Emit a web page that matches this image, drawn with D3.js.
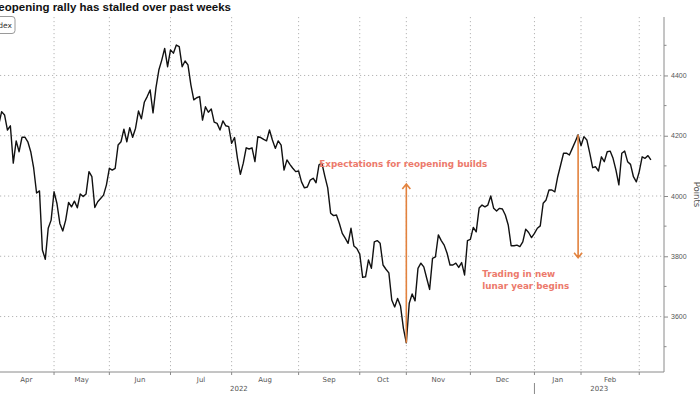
<!DOCTYPE html>
<html>
<head>
<meta charset="utf-8">
<script src="https://cdn.jsdelivr.net/npm/d3@7"></script>
<style>
  body { margin: 0; background: #fff; overflow: hidden; }
  svg { display: block; font-family: "DejaVu Sans", Verdana, sans-serif; }
  .grid line { stroke: #b5b5b5; stroke-width: 1; stroke-dasharray: 1.2,2.8; }
  .axis path, .axis line { stroke: #8a8a8a; }
  .axis text { fill: #555; font-size: 7px; }
  .line { fill: none; stroke: #111; stroke-width: 1.4; stroke-linejoin: round; }
  .note { fill: #ec7a6c; font-weight: bold; font-size: 8.8px; }
  .arrow { fill: none; stroke: #e2823e; stroke-width: 1.6; }
</style>
</head>
<body>
<svg id="chart" width="700" height="394"></svg>
<script>
// CSI 300 daily closes, one per trading session, session 0 = 1 Apr 2022
const closes = [
  4236, 4280, 4269, 4219, 4233, 4109, 4183, 4147, 4195, 4195,
  4180, 4147, 4093, 4010, 4017, 3821, 3790, 3893, 3920, 4014,
  3975, 3909, 3884, 3920, 3979, 3964, 3983, 3961, 4007, 3998,
  4007, 4081, 4064, 3962, 3981, 3992, 4003, 4037, 4092, 4086,
  4092, 4169, 4180, 4222, 4180, 4227, 4195, 4225, 4282, 4256,
  4311, 4330, 4352, 4276, 4359, 4418, 4451, 4490, 4429, 4485,
  4474, 4501, 4496, 4429, 4448, 4435, 4369, 4319, 4326, 4330,
  4252, 4296, 4278, 4289, 4245, 4241, 4219, 4249, 4233, 4230,
  4175, 4194, 4125, 4072, 4109, 4160, 4156, 4160, 4114, 4197,
  4194, 4188, 4183, 4219, 4186, 4158, 4183, 4169, 4086, 4120,
  4105, 4092, 4081, 4083, 4047, 4027, 4030, 4053, 4059, 4044,
  4103, 4109, 4066, 4027, 3943, 3935, 3937, 3909, 3876, 3860,
  3843, 3893, 3834, 3826, 3807, 3730, 3732, 3788, 3760, 3848,
  3852, 3843, 3771, 3757, 3745, 3655, 3632, 3660, 3635, 3561,
  3513, 3644, 3675, 3652, 3760, 3777, 3765, 3727, 3690, 3793,
  3798, 3871, 3852, 3837, 3810, 3771, 3771, 3777, 3763, 3779,
  3738, 3852, 3856, 3896, 3881, 3960, 3970, 3964, 3970, 4000,
  3959, 3950, 3959, 3957, 3937, 3904, 3835, 3835, 3837, 3832,
  3848, 3890, 3879, 3862, 3876, 3893, 3901, 3976, 3987, 4020,
  4020, 4014, 4064, 4103, 4142, 4142, 4136, 4158, 4180, 4203,
  4167, 4197, 4186, 4142, 4094, 4097, 4083, 4130, 4114, 4147,
  4149, 4125, 4086, 4037, 4142, 4149, 4114, 4105, 4064, 4047,
  4081, 4130, 4125, 4134, 4120
];

// first trading session of each month (session numbers)
const monthStarts = [0, 19, 38, 59, 80, 103, 124, 140, 162, 184, 200, 220];
const monthLabels = ["Apr", "May", "Jun", "Jul", "Aug", "Sep", "Oct", "Nov", "Dec", "Jan", "Feb"];
const yearLabels = ["2022", "2023"];
const yearBounds = [-19, 184, 228.5];   // sessions: chart start, Jan 2023, chart end
const majorTicks = [3600, 3800, 4000, 4200, 4400];
const minorTicks = [3500, 3700, 3900, 4100, 4300, 4500];

const arrowSessions = [140, 199];
const arrowFrom = [3513, 4203];
const arrowTo = [4040, 3795];
const noteLines = [["Expectations for reopening builds"], ["Trading in new", "lunar year begins"]];
const noteSessions = [110.1, 166.1];
const noteValues = [4096, 3731];

const svg = d3.select("#chart");
const plotLeft = -56.6, plotRight = 664, plotTop = 17, plotBottom = 372;

const x = d3.scaleLinear().domain([yearBounds[0], yearBounds[2]]).range([plotLeft, plotRight]);
const y = d3.scaleLinear().domain([3416, 4594]).range([plotBottom, plotTop]);

// grid
svg.append("g").attr("class", "grid")
  .selectAll("line").data(majorTicks).join("line")
  .attr("x1", 0).attr("x2", plotRight)
  .attr("y1", d => y(d)).attr("y2", d => y(d));

svg.append("g").attr("class", "grid")
  .selectAll("line").data(monthStarts.slice(1)).join("line")
  .attr("x1", d => x(d)).attr("x2", d => x(d))
  .attr("y1", plotTop).attr("y2", plotBottom);

// x axis
const xa = svg.append("g").attr("class", "axis");
xa.append("line").attr("x1", 0).attr("x2", plotRight).attr("y1", plotBottom).attr("y2", plotBottom);
xa.selectAll(".tk").data(monthStarts.slice(1)).join("line").attr("class", "tk")
  .attr("x1", d => x(d)).attr("x2", d => x(d))
  .attr("y1", plotBottom).attr("y2", plotBottom + 3);
xa.selectAll(".ml").data(monthLabels).join("text").attr("class", "ml")
  .attr("x", (d, i) => (x(monthStarts[i]) + x(monthStarts[i + 1])) / 2)
  .attr("y", plotBottom + 9.5)
  .attr("text-anchor", "middle")
  .text(d => d);
xa.selectAll(".yl").data(yearLabels).join("text").attr("class", "yl")
  .attr("x", (d, i) => (x(yearBounds[i]) + x(yearBounds[i + 1])) / 2)
  .attr("y", plotBottom + 19)
  .attr("text-anchor", "middle")
  .text(d => d);
xa.append("line")
  .attr("x1", x(yearBounds[1])).attr("x2", x(yearBounds[1]))
  .attr("y1", plotBottom + 11).attr("y2", 394);

// y axis on the right
const ya = svg.append("g").attr("class", "axis")
  .attr("transform", `translate(${plotRight},0)`)
  .call(d3.axisRight(y).tickValues(majorTicks).tickFormat(d3.format("d")).tickSize(4).tickPadding(3));
ya.select(".domain").attr("d", `M0,${plotTop}V${plotBottom}`);
ya.selectAll(".minor").data(minorTicks).join("line").attr("class", "minor")
  .attr("x1", 0).attr("x2", 2.5)
  .attr("y1", d => y(d)).attr("y2", d => y(d));
svg.append("text")
  .attr("transform", `translate(693.5,${(plotTop + plotBottom) / 2}) rotate(90)`)
  .attr("text-anchor", "middle")
  .attr("fill", "#555")
  .attr("font-size", 8.5)
  .text("Points");

// line
const line = d3.line().x((d, i) => x(i)).y(d => y(d));
svg.append("path").datum(closes).attr("class", "line").attr("d", line);

// annotation arrows
arrowSessions.forEach((s, i) => {
  const ax = x(s), y0 = y(arrowFrom[i]), y1 = y(arrowTo[i]);
  const dir = y1 < y0 ? 1 : -1;
  svg.append("path").attr("class", "arrow")
    .attr("d", `M${ax},${y0}V${y1}M${ax - 4},${y1 + dir * 5}L${ax},${y1}L${ax + 4},${y1 + dir * 5}`);
});

noteLines.forEach((lines, i) => {
  const t = svg.append("text").attr("class", "note")
    .attr("x", x(noteSessions[i])).attr("y", y(noteValues[i]));
  lines.forEach((l, j) => t.append("tspan").attr("x", x(noteSessions[i])).attr("dy", j ? 12 : 0).text(l));
});

// title and legend (chart is cropped at the left, as in the source image)
svg.append("text")
  .attr("x", 231).attr("y", 11)
  .attr("text-anchor", "end")
  .attr("font-family", "'Liberation Sans', Arial, sans-serif")
  .attr("font-weight", "bold")
  .attr("font-size", 11.5)
  .attr("fill", "#111")
  .text("China's reopening rally has stalled over past weeks");

svg.append("rect")
  .attr("x", -60).attr("y", 16.5).attr("width", 75).attr("height", 17).attr("rx", 3)
  .attr("fill", "#fff").attr("stroke", "#9a9a9a");
svg.append("text")
  .attr("x", 12).attr("y", 28)
  .attr("text-anchor", "end")
  .attr("font-size", 7.5).attr("fill", "#333")
  .text("CSI 300 Index");
</script>
</body>
</html>
